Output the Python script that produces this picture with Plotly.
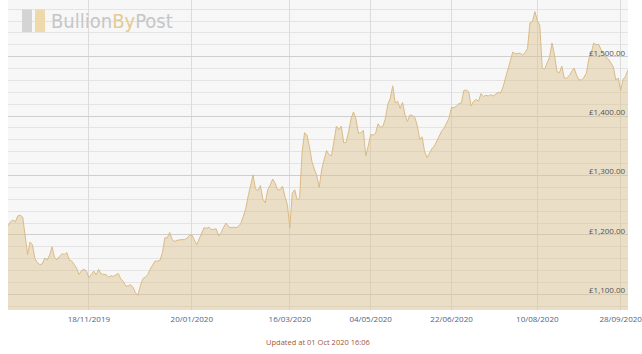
import pandas as pd
import plotly.graph_objects as go

# ---- data ----
holidays = ["2019-12-25", "2019-12-26", "2020-01-01", "2020-04-10",
            "2020-04-13", "2020-05-08", "2020-05-25", "2020-08-31"]
days = [d for d in pd.bdate_range("2019-10-02", "2020-10-01")
        if d.strftime("%Y-%m-%d") not in holidays]
dates = [d.strftime("%d/%m/%Y") for d in days]

prices = [
    1215, 1222, 1225, 1222, 1232, 1233, 1230, 1195, 1167, 1188,
    1183, 1160, 1153, 1150, 1151, 1161, 1158, 1166, 1180, 1162,
    1158, 1164, 1168, 1167, 1170, 1158, 1156, 1150, 1144, 1133,
    1140, 1142, 1139, 1128, 1133, 1139, 1133, 1142, 1134, 1133,
    1133, 1129, 1131, 1130, 1133, 1135, 1126, 1122, 1114, 1114,
    1116, 1112, 1103, 1098, 1114, 1126, 1129, 1133, 1142, 1150,
    1156, 1156, 1157, 1170, 1195, 1195, 1204, 1192, 1189, 1191,
    1192, 1192, 1192, 1194, 1199, 1200, 1192, 1183, 1193, 1203,
    1212, 1211, 1213, 1209, 1209, 1210, 1198, 1204, 1213, 1220,
    1214, 1212, 1213, 1212, 1214, 1219, 1231, 1244, 1265, 1282,
    1301, 1277, 1275, 1283, 1260, 1254, 1276, 1284, 1294, 1287,
    1276, 1276, 1282, 1265, 1251, 1212, 1270, 1276, 1259, 1262,
    1338, 1372, 1368, 1349, 1324, 1311, 1300, 1280, 1310, 1327,
    1342, 1335, 1333, 1357, 1383, 1377, 1383, 1355, 1356, 1374,
    1396, 1407, 1395, 1371, 1372, 1376, 1333, 1350, 1369, 1368,
    1371, 1387, 1381, 1383, 1396, 1420, 1430, 1451, 1422, 1425,
    1413, 1423, 1402, 1391, 1402, 1401, 1398, 1384, 1361, 1365,
    1340, 1330, 1338, 1345, 1350, 1358, 1365, 1375, 1380, 1388,
    1397, 1415, 1414, 1417, 1421, 1422, 1443, 1444, 1441, 1417,
    1425, 1428, 1425, 1438, 1433, 1435, 1434, 1436, 1434, 1437,
    1440, 1439, 1449, 1464, 1479, 1493, 1508, 1505, 1506, 1506,
    1503, 1507, 1514, 1557, 1559, 1576, 1561, 1553, 1481, 1479,
    1490, 1499, 1523, 1503, 1475, 1473, 1484, 1464, 1464, 1468,
    1475, 1481, 1469, 1461, 1461, 1465, 1472, 1496, 1506, 1523,
    1520, 1521, 1512, 1505, 1499, 1496, 1489, 1483, 1461, 1464,
    1443, 1462, 1467, 1478,
]

x_ticks = ["18/11/2019", "20/01/2020", "16/03/2020", "04/05/2020",
           "22/06/2020", "10/08/2020", "28/09/2020"]
y_ticks = [1100, 1200, 1300, 1400, 1500]
y_labels = ["£1,100.00", "£1,200.00", "£1,300.00", "£1,400.00", "£1,500.00"]
updated_text = "Updated at 01 Oct 2020 16:06"

# trading-day index (one slot per dealing day)
idx = list(range(len(dates)))
tick_idx = [dates.index(t) for t in x_ticks]

# ---- layout constants (pixels) ----
W, H = 642, 354
ML, MR, MT, MB = 8, 14, 0, 44
PW, PH = W - ML - MR, H - MT - MB


def px(x):
    return (x - ML) / PW


def py(y):
    return 1 - (y - MT) / PH


fig = go.Figure()
fig.add_trace(go.Scatter(
    x=idx, y=prices, mode="lines",
    customdata=dates,
    line=dict(color="#dbbb84", width=1),
    fill="tozeroy", fillcolor="rgba(218,190,140,0.45)",
    hovertemplate="%{customdata}: £%{y:,.2f}<extra></extra>", showlegend=False,
))

fig.update_layout(
    width=W, height=H,
    margin=dict(l=ML, r=MR, t=MT, b=MB),
    paper_bgcolor="white",
    plot_bgcolor="#f7f7f7",
    xaxis=dict(
        range=[0, len(dates) - 1],
        tickmode="array", tickvals=tick_idx, ticktext=x_ticks,
        showgrid=True, gridcolor="#dcdcdc", gridwidth=1,
        zeroline=False, showline=False, ticks="",
        tickfont=dict(family="Open Sans", size=8, color="#4f6384"),
        ticklabelstandoff=3,
        ticklabeloverflow="allow",
    ),
    yaxis=dict(
        range=[1073.5, 1595.5],
        tickmode="array", tickvals=y_ticks,
        showticklabels=False,
        showgrid=True, gridcolor="#cfcfcf", gridwidth=1,
        minor=dict(dtick=20, tick0=1100, showgrid=True, gridcolor="#e4e4e4", gridwidth=1),
        zeroline=False, showline=False, ticks="",
    ),
)

# price labels sitting just above their gridlines, inside the right edge
for v, lab in zip(y_ticks, y_labels):
    fig.add_annotation(
        xref="paper", yref="y", x=px(626.5), y=v,
        xanchor="right", yanchor="middle", yshift=4.5, showarrow=False,
        text=lab, borderpad=0,
        font=dict(family="Open Sans", size=8, color="#555555"),
    )

# BullionByPost logo (watermark)
fig.add_shape(type="rect", xref="paper", yref="paper",
              x0=px(22), x1=px(32), y0=py(32), y1=py(9.5),
              fillcolor="#d4d4d4", line=dict(width=0), layer="above")
fig.add_shape(type="rect", xref="paper", yref="paper",
              x0=px(35), x1=px(45), y0=py(32), y1=py(9.5),
              fillcolor="#eed9aa", line=dict(width=0), layer="above")
fig.add_annotation(
    xref="paper", yref="paper", x=px(49), y=py(21.5),
    xanchor="left", yanchor="middle", showarrow=False,
    text="Bullion<span style='color:#e4cb95'>By</span>Post",
    font=dict(family="DejaVu Sans Condensed, Liberation Sans Narrow, Roboto", size=20, color="#c6c6c6"),
)

fig.add_annotation(
    xref="paper", yref="paper", x=0.5, y=py(342),
    xanchor="center", yanchor="middle", showarrow=False,
    text=updated_text,
    font=dict(family="Open Sans", size=7.5, color="#a0563a"),
)

fig.write_html("out.html")
